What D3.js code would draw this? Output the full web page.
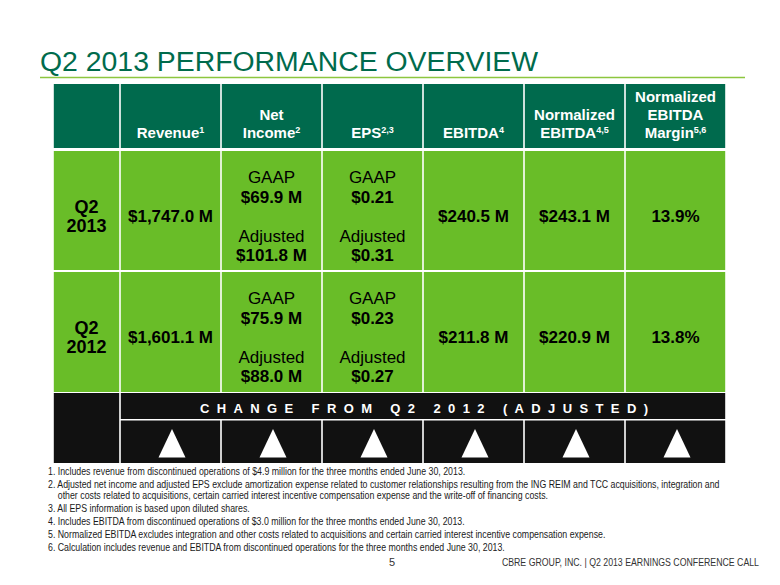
<!DOCTYPE html>
<html>
<head>
<meta charset="utf-8">
<script src="https://cdn.jsdelivr.net/npm/d3@7"></script>
<style>
  html, body { margin: 0; padding: 0; background: #fff; }
  svg { display: block; }
</style>
</head>
<body>
<svg id="chart" width="780" height="585"></svg>
<script>
// ---------------- DATA ----------------
const title = "Q2 2013 PERFORMANCE OVERVIEW";
const metricHeaders = [
  ["Revenue"],
  ["Net", "Income"],
  ["EPS"],
  ["EBITDA"],
  ["Normalized", "EBITDA"],
  ["Normalized", "EBITDA", "Margin"]
];
const metricSuperscripts = ["1", "2", "2,3", "4", "4,5", "5,6"];
const periods = [["Q2", "2013"], ["Q2", "2012"]];
const revenue = [1747.0, 1601.1];
const netIncomeGAAP = [69.9, 75.9];
const netIncomeAdjusted = [101.8, 88.0];
const epsGAAP = [0.21, 0.23];
const epsAdjusted = [0.31, 0.27];
const ebitda = [240.5, 211.8];
const normalizedEbitda = [243.1, 220.9];
const normalizedEbitdaMargin = [13.9, 13.8];
const changeLabel = "CHANGE FROM Q2 2012 (ADJUSTED)";
const changeDirection = ["up", "up", "up", "up", "up", "up"];
const footnotes = [
  ["1. Includes revenue from discontinued operations of $4.9 million for the three months ended June 30, 2013."],
  ["2. Adjusted net income and adjusted EPS exclude amortization expense related to customer relationships resulting from the ING REIM and TCC acquisitions, integration and",
   "    other costs related to acquisitions, certain carried interest incentive compensation expense and the write-off of financing costs."],
  ["3. All EPS information is based upon diluted shares."],
  ["4. Includes EBITDA from discontinued operations of $3.0 million for the three months ended June 30, 2013."],
  ["5. Normalized EBITDA excludes integration and other costs related to acquisitions and certain carried interest incentive compensation expense."],
  ["6. Calculation includes revenue and EBITDA from discontinued operations for the three months ended June 30, 2013."]
];
const pageNumber = "5";
const footerText = "CBRE GROUP, INC. | Q2 2013 EARNINGS CONFERENCE CALL";

// ---------------- STYLE ----------------
const C = {
  title: "#006b4c",
  rule: "#8dc63f",
  header: "#006a4d",
  row: "#69bd28",
  black: "#111111",
  text: "#000000",
  foot: "#1a1a1a"
};
const SANS = "'Liberation Sans', Arial, Helvetica, sans-serif";

const svg = d3.select("#chart");

// title
svg.append("text").attr("x", 40).attr("y", 71)
  .attr("font-family", SANS).attr("font-size", 28.4).attr("fill", C.title)
  .text(title);
svg.append("line").attr("x1", 40).attr("x2", 745).attr("y1", 77.5).attr("y2", 77.5)
  .attr("stroke", C.rule).attr("stroke-width", 1.5);

// ---------------- SCALES ----------------
const tableLeft = 53, labelRight = 120, tableRight = 726;
const x = d3.scaleBand().domain(d3.range(metricHeaders.length)).range([labelRight, tableRight]).padding(0);
const rowY = d3.scaleOrdinal().domain(["header", "r0", "r1", "change", "arrows"])
  .range([84, 151, 272, 393, 420.5]);
const rowH = { header: 64, r0: 119, r1: 120, change: 26, arrows: 42.5 };

const g = svg.append("g");
const gap = 0.8;

function cell(x0, y0, w, h, fill) {
  g.append("rect").attr("x", x0 + gap).attr("y", y0).attr("width", w - 2 * gap).attr("height", h)
    .attr("fill", fill);
}

// header
cell(tableLeft, rowY("header"), labelRight - tableLeft, rowH.header, C.header);
metricHeaders.forEach((lines, i) => {
  cell(x(i), rowY("header"), x.bandwidth(), rowH.header, C.header);
  const cx = x(i) + x.bandwidth() / 2;
  const lastBase = rowY("header") + 54;
  lines.forEach((ln, j) => {
    const t = g.append("text").attr("x", cx).attr("y", lastBase - (lines.length - 1 - j) * 18)
      .attr("text-anchor", "middle").attr("font-family", SANS).attr("font-weight", "bold")
      .attr("font-size", 15).attr("fill", "#fff");
    t.append("tspan").text(ln);
    if (j === lines.length - 1) {
      t.append("tspan").attr("font-size", 9).attr("dy", -5.5).text(metricSuperscripts[i]);
    }
  });
});

// data rows
const fmtM = v => "$" + d3.format(",.1f")(v) + " M";
const fmtEps = v => "$" + d3.format(".2f")(v);
const fmtPct = v => d3.format(".1f")(v) + "%";
const rowCells = periods.map((p, r) => [
  { single: fmtM(revenue[r]) },
  { pair: [fmtM(netIncomeGAAP[r]), fmtM(netIncomeAdjusted[r])] },
  { pair: [fmtEps(epsGAAP[r]), fmtEps(epsAdjusted[r])] },
  { single: fmtM(ebitda[r]) },
  { single: fmtM(normalizedEbitda[r]) },
  { single: fmtPct(normalizedEbitdaMargin[r]) }
]);

function txt(xp, yp, s, bold, size) {
  g.append("text").attr("x", xp).attr("y", yp).attr("text-anchor", "middle")
    .attr("font-family", SANS).attr("font-weight", bold ? "bold" : "normal")
    .attr("font-size", size).attr("fill", C.text).text(s);
}

periods.forEach((p, r) => {
  const key = "r" + r;
  const T = rowY(key), H = rowH[key];
  cell(tableLeft, T, labelRight - tableLeft, H, C.row);
  const lx = (tableLeft + labelRight) / 2;
  txt(lx, T + 62, p[0], true, 18);
  txt(lx, T + 81, p[1], true, 18);
  rowCells[r].forEach((c, i) => {
    cell(x(i), T, x.bandwidth(), H, C.row);
    const cx = x(i) + x.bandwidth() / 2;
    if (c.single) {
      txt(cx, T + 71, c.single, true, 17);
    } else {
      txt(cx, T + 32, "GAAP", false, 17);
      txt(cx, T + 52, c.pair[0], true, 17);
      txt(cx, T + 90.5, "Adjusted", false, 17);
      txt(cx, T + 110, c.pair[1], true, 17);
    }
  });
});

// change section
const chT = rowY("change");
const arT = rowY("arrows");
cell(tableLeft, chT, labelRight - tableLeft, arT + rowH.arrows - chT, C.black);
g.append("rect").attr("x", labelRight + gap).attr("y", chT)
  .attr("width", tableRight - labelRight - 2 * gap).attr("height", rowH.change).attr("fill", C.black);
g.append("text").attr("x", (labelRight + tableRight) / 2 + 1).attr("y", chT + 19.5)
  .attr("text-anchor", "middle").attr("font-family", SANS).attr("font-weight", "bold")
  .attr("font-size", 13).attr("fill", "#fff")
  .attr("textLength", 448).attr("lengthAdjust", "spacing")
  .text(changeLabel);

changeDirection.forEach((d, i) => {
  cell(x(i), arT, x.bandwidth(), rowH.arrows, C.black);
  const cx = x(i) + x.bandwidth() / 2 + 1.5;
  const top = arT + 8.5, bot = arT + 37, hw = 13.5;
  const pts = d === "up"
    ? [[cx, top], [cx + hw, bot], [cx - hw, bot]]
    : [[cx - hw, top], [cx + hw, top], [cx, bot]];
  g.append("path").attr("d", d3.line()(pts) + "Z").attr("fill", "#fff");
});

// footnotes (condensed to mimic Arial Narrow)
const narrow = 0.88;
let fy = 475;
footnotes.forEach((lines, i) => {
  lines.forEach((ln, j) => {
    svg.append("text").attr("x", 0).attr("y", 0)
      .attr("transform", `translate(48,${fy}) scale(${narrow},1)`)
      .attr("font-family", SANS).attr("font-size", 10).attr("fill", C.foot)
      .attr("xml:space", "preserve").style("white-space", "pre")
      .text(ln);
    fy += (j < lines.length - 1) ? 11 : 0;
  });
  fy += 13;
});

// footer
svg.append("text").attr("x", 392).attr("y", 566).attr("text-anchor", "middle")
  .attr("font-family", SANS).attr("font-size", 11).attr("fill", "#333").text(pageNumber);
svg.append("text").attr("x", 0).attr("y", 0)
  .attr("transform", "translate(759,566) scale(0.82,1)").attr("text-anchor", "end")
  .attr("font-family", SANS).attr("font-size", 10.7).attr("fill", "#333").text(footerText);
</script>
</body>
</html>
